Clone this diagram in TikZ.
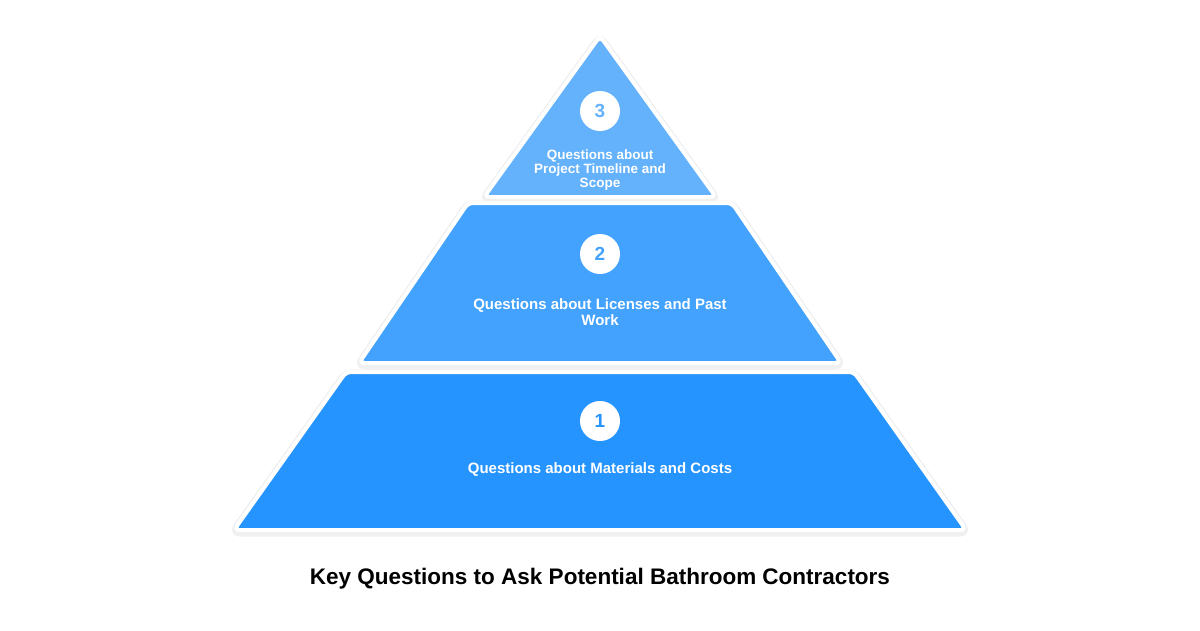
\documentclass[tikz,border=0pt]{standalone}
\usepackage{fontspec}
\setmainfont{Liberation Sans}
\usetikzlibrary{positioning}

\definecolor{tierone}{HTML}{2594FF}
\definecolor{tiertwo}{HTML}{42A2FD}
\definecolor{tierthree}{HTML}{64B1FC}

\tikzset{
  tier/.style={fill=#1, draw=white, line width=4pt, rounded corners=5pt, line join=round},
  tiershadow/.style={draw=black!6, fill=black!6, line width=9pt, rounded corners=6pt, line join=round},
  badge/.style={circle, fill=white, minimum size=40pt, inner sep=0pt, text=#1,
    font=\bfseries\fontsize{19}{19}\selectfont},
  tiertext/.style 2 args={text=white, align=center, inner sep=0pt,
    font=\bfseries\fontsize{#1}{#2}\selectfont},
}

\begin{document}
\begin{tikzpicture}
	[x=1pt, y=-1pt, node distance=14pt]
   \useasboundingbox[fill=white] (0,0) rectangle (1200,630);

   % shadows
   \path[tiershadow, yshift=-2pt] (600,36) -- (716,197) -- (484,197) -- cycle;
   \path[tiershadow, yshift=-2pt] (468,203) -- (732,203) -- (841,363) -- (359,363) -- cycle;
   \path[tiershadow, yshift=-2pt] (346,372) -- (854,372) -- (966,530) -- (234,530) -- cycle;

   % tiers
   \path[tier=tierthree] (600,36) -- (716,197) -- (484,197) -- cycle;
   \path[tier=tiertwo] (468,203) -- (732,203) -- (841,363) -- (359,363) -- cycle;
   \path[tier=tierone] (346,372) -- (854,372) -- (966,530) -- (234,530) -- cycle;

   \node[badge=tierthree] (n_3) at (600,111) {3};
   \node[badge=tiertwo] (n_2) at (600,254) {2};
   \node[badge=tierone] (n_1) at (600,421) {1};

   \node[tiertext={13.5}{14}] (t_3) at (600,170) {Questions about\\Project Timeline and\\Scope};
   \node[tiertext={15}{16}] (t_2) at (600,312) {Questions about Licenses and Past\\Work};
   \node[tiertext={15}{16}] (t_1) at (600,470) {Questions about Materials and Costs};

   \node[font=\bfseries\fontsize{22.5}{22.5}\selectfont] (title) at (600,579)
     {Key Questions to Ask Potential Bathroom Contractors};
\end{tikzpicture}
\end{document}
